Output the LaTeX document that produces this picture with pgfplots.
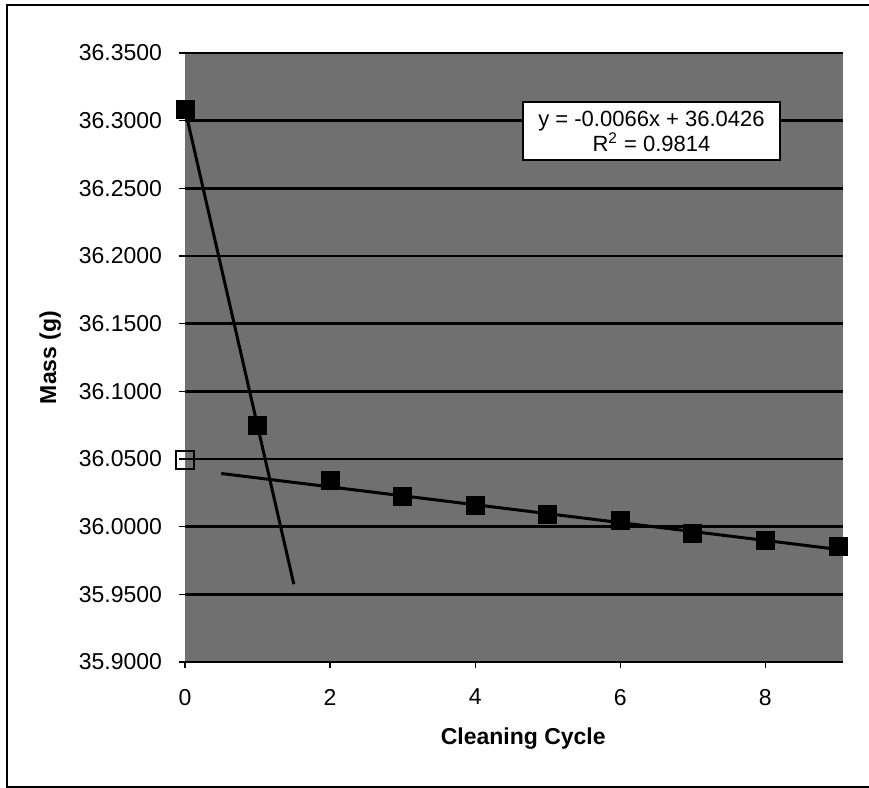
\documentclass[border=0pt]{standalone}
\usepackage{fontspec}
\setmainfont{Liberation Sans}
\usepackage{pgfplots}
\pgfplotsset{compat=1.18}
\begin{document}
\begin{tikzpicture}[x=1pt,y=1pt]
\useasboundingbox (0,0) rectangle (434.5,394);
\draw[line width=1pt] (434.5,391.5) -- (3.5,391.5) -- (3.5,0.5) -- (434.5,0.5);
\begin{axis}[
  at={(92.5pt,63pt)}, anchor=south west,
  scale only axis, width=329pt, height=304.5pt,
  xmin=0, xmax=9.07, ymin=35.9, ymax=36.35,
  clip=false,
  axis background/.style={fill=black!56},
  axis x line*=bottom, axis y line*=left,
  x axis line style={line width=1.2pt},
  y axis line style={draw=none},
  xtick={0,2,4,6,8},
  ytick={35.9,35.95,36,36.05,36.1,36.15,36.2,36.25,36.3,36.35},
  ymajorgrids, grid style={black, line width=1.2pt},
  tick align=outside, major tick length=3pt,
  tick style={black, line width=0.6pt},
  ticklabel style={font=\fontsize{11.5}{13}\selectfont},
  /pgf/number format/assume math mode=true,
  yticklabel style={/pgf/number format/.cd, fixed, fixed zerofill, precision=4},
  xticklabel style={/pgf/number format/.cd, fixed, precision=0},
  yticklabel shift=5pt, xticklabel shift=7pt,
  xlabel={Cleaning Cycle}, ylabel={Mass (g)},
  every axis x label/.style={at={(axis description cs:0.514,-0.125)}, anchor=center, font=\bfseries\fontsize{11.5}{13}\selectfont},
  every axis y label/.style={at={(axis description cs:-0.205,0.5)}, rotate=90, anchor=center, font=\bfseries\fontsize{11.5}{13}\selectfont},
]
% steep line through first two points
\addplot[black, line width=1.5pt, mark=none] coordinates {(0,36.3085) (1,36.0745) (1.5,35.9575)};
% linear trendline
\addplot[black, line width=1.5pt, mark=none] coordinates {(0.5,36.0393) (9,35.9832)};
% data
\addplot[only marks, mark=square*, mark size=4.5pt, mark options={fill=black, draw=black}] coordinates {
(0,36.3085) (1,36.0745) (2,36.0340) (3,36.0220) (4,36.0160)
(5,36.0090) (6,36.0045) (7,35.9950) (8,35.9895) (9,35.9855)};
\addplot[only marks, mark=square, mark size=4.5pt, mark options={draw=black, line width=1pt}] coordinates {(0,36.0490)};
\end{axis}
\node[draw=black, line width=1pt, fill=white, minimum width=128.5pt, minimum height=29pt, align=center,
  font=\fontsize{11}{12.5}\selectfont, inner sep=1pt] at (325.75,328.5)
  {y = -0.0066x + 36.0426\\R\textsuperscript{2} = 0.9814};
\end{tikzpicture}
\end{document}
